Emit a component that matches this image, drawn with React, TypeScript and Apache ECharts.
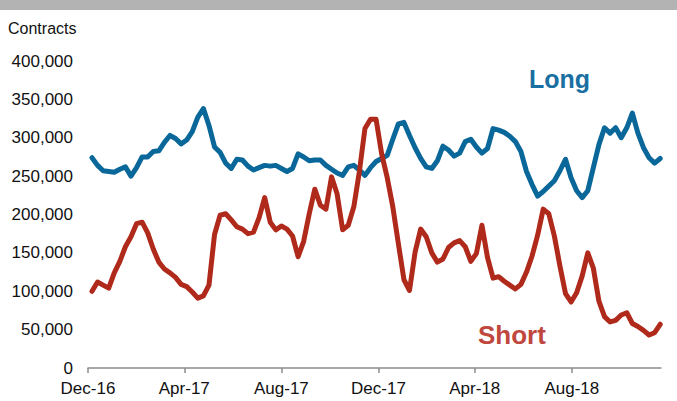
import React, { useEffect, useRef } from "react";
import * as echarts from "echarts";

// Weekly observations, first week and step
const startDate = "2016-12-06";
const axisStart = "2016-12-01";
const axisEnd = "2018-11-21";

const longValues = [
  274, 264, 257, 256, 255, 259, 262, 250, 261, 275,
  275, 282, 283, 294, 303, 299, 292, 297, 308, 327,
  338, 316, 288, 281, 267, 260, 272, 271, 263, 258,
  261, 264, 263, 264, 260, 256, 260, 279, 275, 270,
  271, 271, 264, 259, 254, 251, 262, 264, 258, 251,
  261, 269, 273, 277, 298, 318, 320, 303, 287, 273,
  262, 260, 270, 289, 284, 276, 280, 295, 298, 288,
  280, 286, 312, 310, 307, 302, 295, 282, 256, 239,
  224, 230, 237, 244, 257, 272, 248, 231, 222, 231,
  261, 291, 313, 306, 313, 300, 313, 332, 306, 287,
  274, 267, 273,
].map((v) => v * 1000);

const shortValues = [
  100, 112, 108, 104, 124, 139, 158, 171, 188, 190,
  176, 155, 138, 129, 124, 118, 109, 106, 99, 91,
  94, 108, 174, 199, 201, 193, 184, 181, 175, 177,
  196, 222, 190, 180, 185, 181, 172, 145, 165, 201,
  233, 212, 207, 249, 227, 180, 186, 210, 256, 312,
  324, 324, 279, 248, 210, 162, 115, 101, 151, 181,
  171, 150, 138, 142, 157, 163, 166, 158, 139, 149,
  186, 144, 117, 119, 113, 108, 103, 109, 125, 146,
  173, 207, 201, 172, 133, 97, 86, 98, 120, 150,
  130, 87, 67, 60, 62, 69, 72, 58, 54, 49,
  43, 46, 57,
].map((v) => v * 1000);

const tickDates = ["2016-12-01", "2017-04-01", "2017-08-01", "2017-12-01", "2018-04-01", "2018-08-01"];
const tickLabels = ["Dec-16", "Apr-17", "Aug-17", "Dec-17", "Apr-18", "Aug-18"];

const yTicks = { min: 0, max: 400000, interval: 50000 };

const DAY = 86400000;
const dayOf = (s: string) => Math.round((Date.parse(s + "T00:00:00Z") - Date.parse(axisStart + "T00:00:00Z")) / DAY);

export default function App() {
  const ref = useRef<HTMLDivElement>(null);
  useEffect(() => {
    if (!ref.current) return;
    const chart = echarts.init(ref.current, null, { renderer: "svg" });
    const start = dayOf(startDate);
    const longData = longValues.map((v, i) => [start + 7 * i, v]);
    const shortData = shortValues.map((v, i) => [start + 7 * i, v]);
    const tickDays = tickDates.map(dayOf);
    const labelMap = new Map<number, string>();
    tickDays.forEach((d, i) => labelMap.set(d, tickLabels[i]));
    const font = "'Liberation Sans', Arial, sans-serif";

    chart.setOption({
      animation: false,
      backgroundColor: "#ffffff",
      grid: { left: 88, right: 16, top: 61, bottom: 33 },
      xAxis: {
        type: "value",
        min: 0,
        max: dayOf(axisEnd),
        splitLine: { show: false },
        axisLine: { show: true, lineStyle: { color: "#8c8c8c", width: 1.5 } },
        axisTick: { show: true, length: 5, customValues: tickDays, lineStyle: { color: "#8c8c8c", width: 1.5 } },
        axisLabel: {
          customValues: tickDays,
          formatter: (v: number) => labelMap.get(v) ?? "",
          color: "#111",
          fontSize: 17,
          fontFamily: font,
          margin: 12,
        },
      },
      yAxis: {
        type: "value",
        min: yTicks.min,
        max: yTicks.max,
        interval: yTicks.interval,
        splitLine: { show: false },
        axisLine: { show: false },
        axisTick: { show: false },
        axisLabel: {
          formatter: (v: number) => v.toLocaleString("en-US"),
          color: "#111",
          fontSize: 17,
          fontFamily: font,
          margin: 15,
        },
      },
      series: [
        {
          name: "Long",
          type: "line",
          data: longData,
          showSymbol: false,
          lineStyle: { color: "#0a6799", width: 5, cap: "round", join: "round" },
          itemStyle: { color: "#0a6799" },
        },
        {
          name: "Short",
          type: "line",
          data: shortData,
          showSymbol: false,
          lineStyle: { color: "#b02a1b", width: 5, cap: "round", join: "round" },
          itemStyle: { color: "#b02a1b" },
        },
      ],
      graphic: [
        { type: "rect", left: 0, top: 0, shape: { width: 677, height: 10 }, style: { fill: "#b3b3b3" } },
        {
          type: "text",
          left: 8,
          top: 20,
          style: { text: "Contracts", fontSize: 16, fontFamily: font, fill: "#111" },
        },
        {
          type: "text",
          left: 529,
          top: 66,
          style: { text: "Long", fontSize: 25, fontWeight: "bold", fontFamily: font, fill: "#1a6fa2" },
        },
        {
          type: "text",
          left: 478,
          top: 322,
          style: { text: "Short", fontSize: 26, fontWeight: "bold", fontFamily: font, fill: "#c0473d" },
        },
      ],
    });
    return () => chart.dispose();
  }, []);
  return <div ref={ref} style={{ position: "absolute", left: 0, top: 0, width: 677, height: 401 }} />;
}
